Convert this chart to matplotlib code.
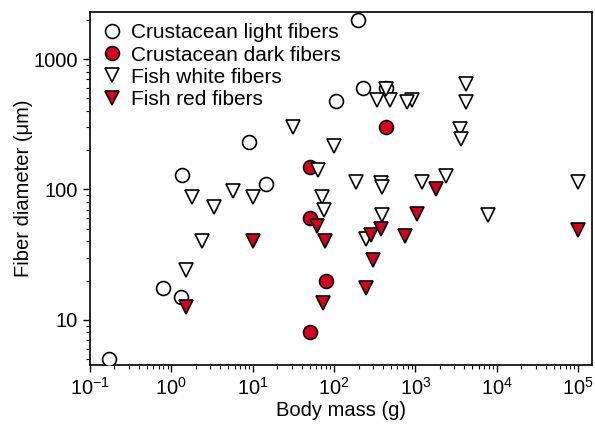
import matplotlib
matplotlib.use("Agg")
import matplotlib.pyplot as plt
from matplotlib.ticker import LogLocator, NullFormatter

plt.rcParams['font.family'] = ['Liberation Sans', 'DejaVu Sans']
plt.rcParams['mathtext.fontset'] = 'custom'
plt.rcParams['mathtext.rm'] = 'Liberation Sans'
plt.rcParams['mathtext.it'] = 'Liberation Sans:italic'
plt.rcParams['mathtext.bf'] = 'Liberation Sans:bold'

RED = '#d8001e'

# Crustacean light fibers (open circles)
cl_mass = [195, 225, 440, 107, 9, 1.35, 14.5, 0.8, 1.3, 0.17]
cl_diam = [2000, 600, 600, 480, 230, 130, 110, 17.5, 15, 5]

# Crustacean dark fibers (red circles)
cd_mass = [440, 50, 50, 80, 50]
cd_diam = [300, 150, 60, 20, 8]

# Fish white fibers (open triangles)
fw_mass = [31, 340, 480, 920, 780, 440, 4200, 4200, 3500, 3600, 100, 63,
           185, 380, 385, 1200, 2400, 100000, 72, 76, 5.8, 1.8, 10, 3.3,
           2.4, 1.5, 390, 7900, 250]
fw_diam = [300, 490, 490, 490, 465, 590, 640, 465, 290, 245, 215, 140,
           115, 113, 104, 115, 128, 115, 88, 69, 98, 88, 87, 73,
           40, 24, 64, 64, 42]

# Fish red fibers (red triangles)
fr_mass = [1800, 62, 78, 10, 1.5, 73, 1050, 285, 380, 750, 100000, 300, 250]
fr_diam = [100, 52, 40, 40, 12.5, 13.5, 65, 45, 50, 44, 49, 29, 17.5]

xticks = [1e-1, 1e0, 1e1, 1e2, 1e3, 1e4, 1e5]
yticks = [10, 100, 1000]
ytick_labels = ['10', '100', '1000']

fig = plt.figure(figsize=(5.95, 4.24), dpi=100)
ax = fig.add_axes([90/595, 59/424, 502/595, 353/424])

ms = 10
mew = 1.2
ax.plot(cl_mass, cl_diam, 'o', ms=ms, mfc='white', mec='black', mew=mew,
        label='Crustacean light fibers', zorder=3)
ax.plot(cd_mass, cd_diam, 'o', ms=ms, mfc=RED, mec='black', mew=mew,
        label='Crustacean dark fibers', zorder=4)
ax.plot(fw_mass, fw_diam, 'v', ms=ms, mfc='white', mec='black', mew=mew,
        label='Fish white fibers', zorder=5)
ax.plot(fr_mass, fr_diam, 'v', ms=ms, mfc=RED, mec='black', mew=mew,
        label='Fish red fibers', zorder=6)

ax.set_xscale('log')
ax.set_yscale('log')
ax.set_xlim(1e-1, 10**5.17)
ax.set_ylim(4.5, 2300)

ax.set_xticks(xticks)
ax.xaxis.set_minor_locator(LogLocator(base=10, subs=range(2, 10), numticks=20))
ax.xaxis.set_minor_formatter(NullFormatter())
ax.set_yticks(yticks)
ax.set_yticklabels(ytick_labels)
ax.yaxis.set_minor_locator(LogLocator(base=10, subs=range(2, 10), numticks=20))
ax.yaxis.set_minor_formatter(NullFormatter())

ax.tick_params(which='major', direction='out', length=5, width=1, labelsize=14.5,
               top=False, right=False)
ax.tick_params(which='minor', direction='out', length=3, width=0.8,
               top=False, right=False)
for s in ax.spines.values():
    s.set_linewidth(1.2)

ax.set_xlabel('Body mass (g)', fontsize=14.5, labelpad=2)
ax.set_ylabel('Fiber diameter (μm)', fontsize=14.5, labelpad=0.5)

ax.legend(loc='upper left', frameon=False, fontsize=15, handlelength=1.0,
          handletextpad=0.4, labelspacing=0.15, borderpad=0.1,
          borderaxespad=0.45, markerscale=1.0)

fig.savefig('out.png', dpi=100)
